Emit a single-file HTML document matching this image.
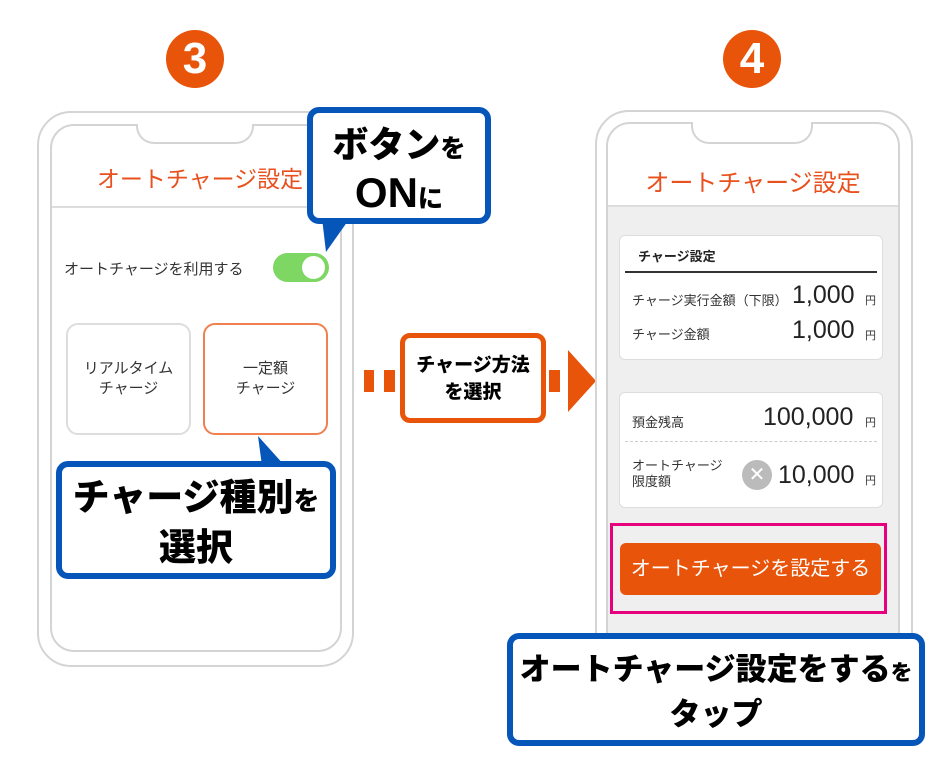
<!DOCTYPE html>
<html><head><meta charset="utf-8"><style>
*{margin:0;padding:0;box-sizing:border-box}
body{width:944px;height:767px;background:#fff;position:relative;overflow:hidden;font-family:"Liberation Sans","Noto Sans CJK JP",sans-serif}
.a{position:absolute}
.num{width:58px;height:58px;border-radius:50%;background:#e8540a;color:#fff;font-weight:900;font-size:44px;text-align:center;line-height:58px}
.outer{border:2px solid #d4d4d4;border-radius:34px;background:#fff}
.inner{border:2px solid #d4d4d4;border-radius:24px;background:#fff;overflow:hidden}
.notch{background:#fff;border:2px solid #d4d4d4;border-top:none;border-radius:0 0 18px 18px}
.title{color:#e8501e;font-size:23px;text-align:center}
.call{border:6px solid #0556b8;border-radius:12px;background:#fff;text-align:center;font-weight:900;color:#000}
.sm{font-size:0.7em}
.row{font-size:13px;color:#333}
.val{font-size:25px;color:#222}
.yen{font-size:11px;color:#333}
</style></head><body>

<div class="a num" style="left:166px;top:30px">3</div>
<div class="a num" style="left:723px;top:30px">4</div>

<!-- phone 1 -->
<div class="a outer" style="left:37px;top:111px;width:317px;height:556px"></div>
<div class="a inner" style="left:50px;top:124px;width:292px;height:528px">
  <div class="a" style="left:0;top:80px;width:100%;height:2px;background:#ddd"></div>
</div>
<div class="a notch" style="left:136px;top:124px;width:118px;height:20px"></div>
<div class="a title" style="left:60px;top:160px;width:280px">オートチャージ設定</div>
<div class="a row" style="left:64px;top:258px;font-size:15px">オートチャージを利用する</div>
<div class="a" style="left:273px;top:253px;width:56px;height:29px;border-radius:15px;background:#7ed663"></div>
<div class="a" style="left:302px;top:256px;width:23px;height:23px;border-radius:50%;background:#fff"></div>
<div class="a" style="left:66px;top:323px;width:125px;height:112px;border:2px solid #ddd;border-radius:12px;text-align:center;padding-top:34px;font-size:15px;color:#333;line-height:20px">リアルタイム<br>チャージ</div>
<div class="a" style="left:203px;top:323px;width:125px;height:112px;border:2px solid #f08050;border-radius:12px;text-align:center;padding-top:34px;font-size:15px;color:#333;line-height:20px">一定額<br>チャージ</div>

<svg class="a" style="left:0;top:0" width="944" height="767">
  <polygon points="326,252 322,218 350,218" fill="#0556b8"/>
  <polygon points="258,436 262,466 285,466" fill="#0556b8"/>
  <polygon points="752,622 756,660 782,660" fill="#0556b8"/>
  <rect x="364" y="370" width="10" height="22" fill="#e8540a"/>
  <rect x="384" y="370" width="11" height="22" fill="#e8540a"/>
  <rect x="549" y="370" width="11" height="22" fill="#e8540a"/>
  <polygon points="568,350 596,381 568,412" fill="#e8540a"/>
</svg>

<div class="a call" style="left:307px;top:107px;width:184px;height:117px;font-size:36px;line-height:44px;padding-top:10px">ボタン<span class="sm">を</span><br><span style="font-size:42px">ON</span><span class="sm">に</span></div>
<div class="a call" style="left:56px;top:461px;width:280px;height:118px;font-size:37px;line-height:46px;padding-top:8px">チャージ種別<span class="sm">を</span><br>選択</div>

<div class="a" style="left:400px;top:333px;width:146px;height:90px;border:5px solid #e8540a;border-radius:10px;background:#fff;text-align:center;font-weight:900;font-size:19px;line-height:27px;padding-top:14px">チャージ方法<br>を選択</div>

<!-- phone 2 -->
<div class="a outer" style="left:595px;top:110px;width:318px;height:590px"></div>
<div class="a inner" style="left:606px;top:122px;width:294px;height:554px;background:#efefef">
  <div class="a" style="left:0;top:0;width:100%;height:83px;background:#fff;border-bottom:2px solid #ddd"></div>
</div>
<div class="a notch" style="left:691px;top:122px;width:122px;height:22px"></div>
<div class="a title" style="left:606px;top:163px;width:294px;font-size:24px">オートチャージ設定</div>

<div class="a" style="left:619px;top:235px;width:264px;height:125px;background:#fff;border:1px solid #ddd;border-radius:6px"></div>
<div class="a" style="left:638px;top:246px;font-size:13px;font-weight:bold;color:#222">チャージ設定</div>
<div class="a" style="left:625px;top:271px;width:252px;height:2px;background:#333"></div>
<div class="a row" style="left:632px;top:290px">チャージ実行金額（下限）</div>
<div class="a val" style="left:792px;top:281px">1,000</div><div class="a yen" style="left:865px;top:292px">円</div>
<div class="a row" style="left:632px;top:324px">チャージ金額</div>
<div class="a val" style="left:792px;top:316px">1,000</div><div class="a yen" style="left:865px;top:327px">円</div>

<div class="a" style="left:619px;top:392px;width:264px;height:116px;background:#fff;border:1px solid #ddd;border-radius:6px"></div>
<div class="a row" style="left:632px;top:412px">預金残高</div>
<div class="a val" style="left:763px;top:403px">100,000</div><div class="a yen" style="left:865px;top:414px">円</div>
<div class="a" style="left:625px;top:441px;width:252px;border-top:1px dashed #ccc"></div>
<div class="a row" style="left:632px;top:458px;line-height:16px">オートチャージ<br>限度額</div>
<div class="a" style="left:742px;top:460px;width:30px;height:30px;border-radius:50%;background:#bbb;color:#fff;text-align:center;line-height:30px;font-size:20px">✕</div>
<div class="a val" style="left:778px;top:461px">10,000</div><div class="a yen" style="left:865px;top:472px">円</div>

<div class="a" style="left:610px;top:523px;width:277px;height:91px;border:3px solid #e6007e"></div>
<div class="a" style="left:620px;top:543px;width:261px;height:52px;background:#e8540a;border-radius:6px;color:#fff;font-size:20px;text-align:center;line-height:52px">オートチャージを設定する</div>

<div class="a call" style="left:507px;top:633px;width:418px;height:113px;font-size:31px;line-height:42px;padding-top:10px">オートチャージ設定をする<span class="sm">を</span><br>タップ</div>
</body></html>
